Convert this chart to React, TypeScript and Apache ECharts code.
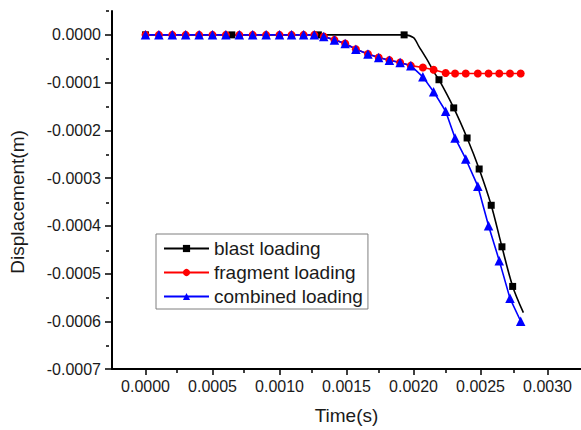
import React, { useEffect, useRef } from 'react';
import * as echarts from 'echarts';

// Tick values
const xMajorTicks = [0, 0.0005, 0.001, 0.0015, 0.002, 0.0025, 0.003];
const xMinorTicks = [0.00025, 0.00075, 0.00125, 0.00175, 0.00225, 0.00275];
const yMajorTicks = [-0.0007, -0.0006, -0.0005, -0.0004, -0.0003, -0.0002, -0.0001, 0];
const yMinorTicks = [-0.00065, -0.00055, -0.00045, -0.00035, -0.00025, -0.00015, -0.00005, 0.00005];

// Blast loading (black squares)
const blastTime = [0, 0.000644, 0.00129, 0.00193, 0.002, 0.00204, 0.00211, 0.00215, 0.00219, 0.0023, 0.0024, 0.00249, 0.00258, 0.00266, 0.00274, 0.00282];
const blastDisp = [0, 0, 0, 0, -0.000006, -0.000024, -0.000056, -0.000077, -0.000094, -0.000153, -0.000216, -0.000281, -0.000357, -0.000444, -0.000527, -0.000582];
const blastMarked = [true, true, true, true, false, false, false, false, true, true, true, true, true, true, true, false];

// Fragment & combined loading share sampling times
const sampleTime = [0, 0.0001, 0.0002, 0.0003, 0.0004, 0.0005, 0.0006, 0.0007, 0.0008, 0.0009, 0.001, 0.00109, 0.00118, 0.00126, 0.00133, 0.00141, 0.00149, 0.00157, 0.00166, 0.00174, 0.00182, 0.0019, 0.00198, 0.00207, 0.00215, 0.00224, 0.00231, 0.00239, 0.00248, 0.00256, 0.00264, 0.00272, 0.0028];
const fragmentDisp = [0, 0, 0, 0, 0, 0, 0, 0, 0, 0, 0, 0, 0, 0, -0.0000036, -0.0000105, -0.000018, -0.00003, -0.00004, -0.0000475, -0.000053, -0.000058, -0.0000645, -0.0000684, -0.0000732, -0.00008, -0.000081, -0.000081, -0.000081, -0.000081, -0.000081, -0.000081, -0.000081];
const combinedDisp = [0, 0, 0, 0, 0, 0, 0, 0, 0, 0, 0, 0, 0, 0, -0.0000036, -0.0000105, -0.000018, -0.00003, -0.00004, -0.0000475, -0.000053, -0.000058, -0.0000645, -0.000088, -0.000119, -0.00016, -0.000216, -0.00026, -0.000317, -0.0004, -0.000473, -0.000552, -0.0006];

const FONT = '"Liberation Sans", Arial, sans-serif';

export default function App() {
  const ref = useRef<HTMLDivElement>(null);
  useEffect(() => {
    const chart = echarts.init(ref.current as HTMLDivElement, null, { renderer: 'svg' });
    const fmt = (v: number) => v.toFixed(4);
    const axisColor = '#000';
    const textColor = '#1a1a1a';
    const gridBox = { left: 109, right: 0, top: 11, bottom: 60 };

    const blastData = blastTime.map((t, i) =>
      blastMarked[i] ? [t, blastDisp[i]] : { value: [t, blastDisp[i]], symbol: 'none' }
    );

    chart.setOption({
      animation: false,
      backgroundColor: '#fff',
      textStyle: { fontFamily: FONT },
      grid: [
        { ...gridBox },
        { ...gridBox },
      ],
      xAxis: [
        {
          type: 'value',
          gridIndex: 0,
          min: -0.00025,
          max: 0.00325,
          splitLine: { show: false },
          axisLine: { onZero: false, lineStyle: { color: axisColor, width: 2 } },
          axisTick: { customValues: xMajorTicks, length: 6, lineStyle: { color: axisColor, width: 1.5 } },
          axisLabel: {
            customValues: xMajorTicks,
            formatter: fmt,
            margin: 9,
            fontSize: 16,
            color: textColor,
            fontFamily: FONT,
          },
          name: 'Time(s)',
          nameLocation: 'middle',
          nameGap: 37,
          nameTextStyle: { fontSize: 19, color: textColor, fontFamily: FONT },
        },
        {
          type: 'value',
          gridIndex: 1,
          min: -0.00025,
          max: 0.00325,
          splitLine: { show: false },
          axisLine: { show: false, onZero: false },
          axisTick: { customValues: xMinorTicks, length: 3, lineStyle: { color: axisColor, width: 1.5 } },
          axisLabel: { show: false },
        },
      ],
      yAxis: [
        {
          type: 'value',
          gridIndex: 0,
          min: -0.0007,
          max: 0.00005,
          splitLine: { show: false },
          axisLine: { onZero: false, lineStyle: { color: axisColor, width: 2 } },
          axisTick: { customValues: yMajorTicks, length: 7, lineStyle: { color: axisColor, width: 1.5 } },
          axisLabel: {
            customValues: yMajorTicks,
            formatter: fmt,
            margin: 11,
            fontSize: 16,
            color: textColor,
            fontFamily: FONT,
          },
          name: 'Displacement(m)',
          nameLocation: 'middle',
          nameGap: 85,
          nameTextStyle: { fontSize: 19, color: textColor, fontFamily: FONT, padding: [0, 24, 0, 0] },
        },
        {
          type: 'value',
          gridIndex: 1,
          min: -0.0007,
          max: 0.00005,
          splitLine: { show: false },
          axisLine: { show: false, onZero: false },
          axisTick: { customValues: yMinorTicks, length: 3, lineStyle: { color: axisColor, width: 1.5 } },
          axisLabel: { show: false },
        },
      ],
      legend: {
        orient: 'vertical',
        left: 156,
        top: 234,
        padding: [5, 5, 3, 7],
        itemGap: 5,
        itemWidth: 45,
        itemHeight: 9,
        borderColor: '#7f7f7f',
        borderWidth: 1,
        backgroundColor: '#fff',
        textStyle: { fontSize: 19, color: textColor, fontFamily: FONT },
        data: ['blast loading', 'fragment loading', 'combined loading'],
      },
      series: [
        {
          type: 'line',
          name: 'blast loading',
          xAxisIndex: 0,
          yAxisIndex: 0,
          data: blastData,
          symbol: 'rect',
          symbolSize: 7,
          showAllSymbol: true,
          smooth: 0.3,
          lineStyle: { color: '#000', width: 1.6 },
          itemStyle: { color: '#000' },
        },
        {
          type: 'line',
          name: 'fragment loading',
          xAxisIndex: 0,
          yAxisIndex: 0,
          data: sampleTime.map((t, i) => [t, fragmentDisp[i]]),
          symbol: 'circle',
          symbolSize: 8,
          showAllSymbol: true,
          lineStyle: { color: '#ff0000', width: 1.6 },
          itemStyle: { color: '#ff0000' },
        },
        {
          type: 'line',
          name: 'combined loading',
          xAxisIndex: 0,
          yAxisIndex: 0,
          data: sampleTime.map((t, i) => [t, combinedDisp[i]]),
          symbol: 'triangle',
          symbolSize: 9.5,
          showAllSymbol: true,
          lineStyle: { color: '#0000ff', width: 1.6 },
          itemStyle: { color: '#0000ff' },
        },
      ],
    });
    return () => chart.dispose();
  }, []);
  return (
    <div
      ref={ref}
      style={{ position: 'fixed', left: 0, top: 0, width: 581, height: 430, background: '#fff' }}
    />
  );
}
